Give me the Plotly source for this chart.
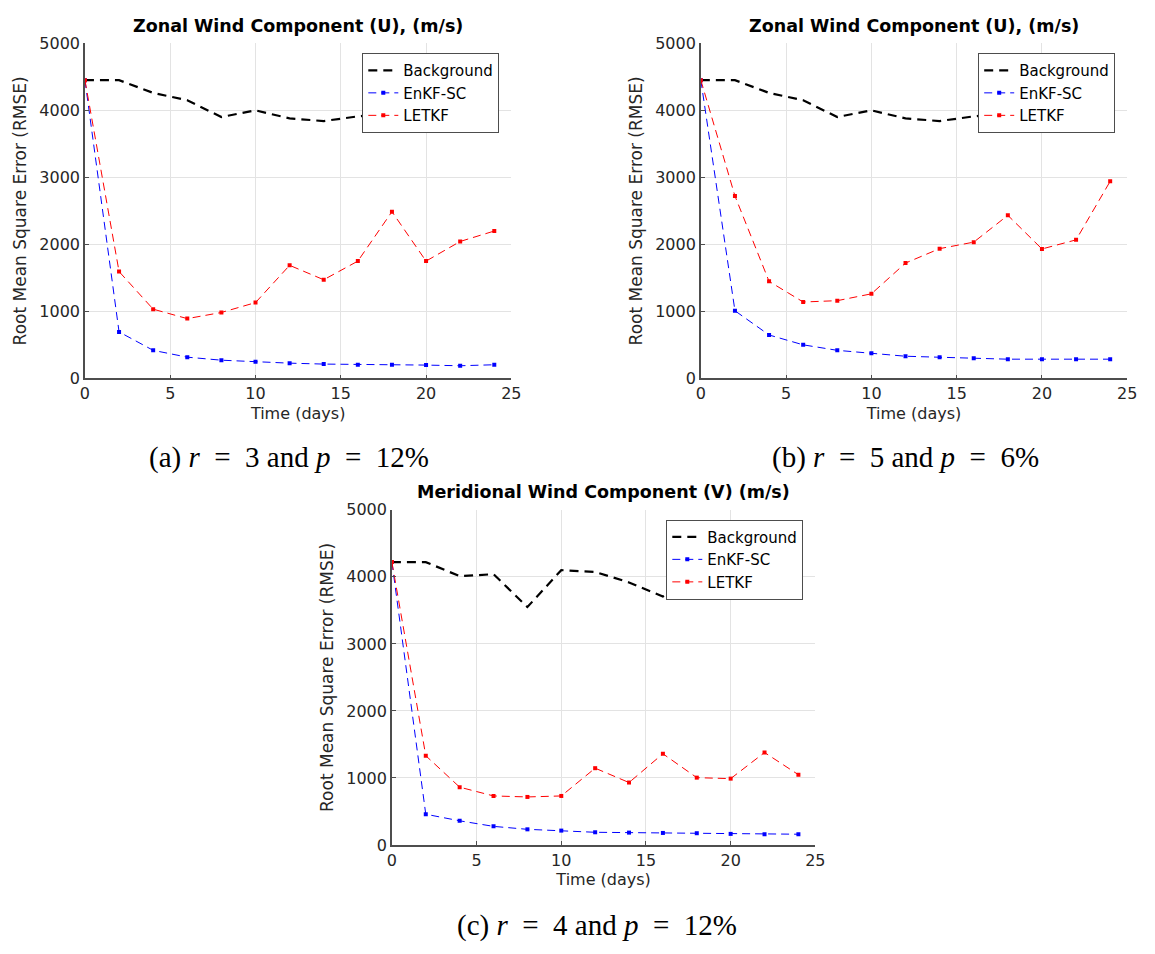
import plotly.graph_objects as go

W, H = 1155, 954

days = [0, 2, 4, 6, 8, 10, 12, 14, 16, 18, 20, 22, 24]

# (a) r=3, p=12%  -- Zonal wind U
bg_u = [4450, 4450, 4260, 4150, 3900, 4000, 3880, 3840, 3910, 3960, 3920, 3960, 3910]
enkf_a = [4450, 695, 420, 318, 273, 249, 229, 215, 205, 205, 200, 190, 205]
letkf_a = [4450, 1595, 1034, 893, 985, 1132, 1688, 1473, 1751, 2488, 1751, 2044, 2200]

# (b) r=5, p=6%  -- Zonal wind U
enkf_b = [4450, 1010, 649, 502, 420, 376, 332, 317, 302, 288, 288, 288, 288]
letkf_b = [4450, 2722, 1449, 1141, 1161, 1263, 1722, 1937, 2034, 2434, 1932, 2068, 2941]

# (c) r=4, p=12%  -- Meridional wind V
bg_v = [4220, 4220, 4010, 4040, 3550, 4100, 4073, 3917, 3707, 4000, 4050, 3990, 3756]
enkf_c = [4220, 459, 361, 278, 234, 215, 190, 185, 180, 176, 166, 161, 161]
letkf_c = [4220, 1332, 863, 732, 717, 732, 1146, 932, 1361, 1005, 990, 1380, 1049]

panel_titles = ["Zonal Wind Component (U), (m/s)",
                "Zonal Wind Component (U), (m/s)",
                "Meridional Wind Component (V) (m/s)"]
SP = "\u00a0\u00a0"
captions = ["(a) <i>r</i>" + SP + "=" + SP + "3 and <i>p</i>" + SP + "=" + SP + "12%",
            "(b) <i>r</i>" + SP + "=" + SP + "5 and <i>p</i>" + SP + "=" + SP + "6%",
            "(c) <i>r</i>" + SP + "=" + SP + "4 and <i>p</i>" + SP + "=" + SP + "12%"]
series_names = ["Background", "EnKF-SC", "LETKF"]
x_ticks = [0, 5, 10, 15, 20, 25]
y_ticks = [0, 1000, 2000, 3000, 4000, 5000]

FONT = "DejaVu Sans, Verdana, sans-serif"
AX = "#4d4d4d"

# pixel boxes of the three axes: (left, right, top, bottom)
boxes = [(81, 513, 35, 377), (705, 1137, 35, 377), (392, 821, 511, 853)]
legend_pos = [(362, 45), (986, 45), (670, 521)]
caption_pos = [(288, 458), (912, 458), (600, 935)]

panels = [(bg_u, enkf_a, letkf_a), (bg_u, enkf_b, letkf_b), (bg_v, enkf_c, letkf_c)]

fig = go.Figure()
annotations = []
layout = dict(width=W, height=H, margin=dict(l=0, r=0, t=0, b=0),
              paper_bgcolor="white", plot_bgcolor="white",
              font=dict(family=FONT, size=16, color="#262626"))

for i, (box, (bg, enkf, letkf)) in enumerate(zip(boxes, panels)):
    n = "" if i == 0 else str(i + 1)
    xa, ya = "x" + n, "y" + n
    leg = "legend" + n
    l, r, t, b = box
    fig.add_trace(go.Scatter(x=days, y=bg, name=series_names[0], mode="lines",
                             line=dict(color="black", width=2.2, dash="9px,6px"),
                             xaxis=xa, yaxis=ya, legend=leg))
    fig.add_trace(go.Scatter(x=days, y=enkf, name=series_names[1], mode="lines+markers",
                             line=dict(color="#0000ff", width=1, dash="8px,5px"),
                             marker=dict(symbol="square", size=4, color="#0000ff"),
                             xaxis=xa, yaxis=ya, legend=leg))
    fig.add_trace(go.Scatter(x=days, y=letkf, name=series_names[2], mode="lines+markers",
                             line=dict(color="#ff0000", width=1, dash="8px,5px"),
                             marker=dict(symbol="square", size=4, color="#ff0000"),
                             xaxis=xa, yaxis=ya, legend=leg))
    common = dict(showgrid=True, gridcolor="#e3e3e3", gridwidth=1,
                  showline=True, linecolor=AX, linewidth=1.5,
                  ticks="inside", ticklen=4, tickcolor=AX,
                  zeroline=False, mirror=False,
                  tickfont=dict(family=FONT, size=16, color="#262626"))
    layout["xaxis" + n] = dict(common, domain=[l / W, r / W], range=[0, 25],
                               tickvals=x_ticks, anchor=ya,
                               title=dict(text="Time (days)", standoff=5,
                                          font=dict(family=FONT, size=16)))
    layout["yaxis" + n] = dict(common, domain=[1 - b / H, 1 - t / H], range=[0, 5000],
                               tickvals=y_ticks, anchor=xa,
                               title=dict(text="Root Mean Square Error (RMSE)", standoff=8,
                                          font=dict(family=FONT, size=17)))
    lx, ly = legend_pos[i]
    layout[leg] = dict(x=lx / W, y=1 - ly / H, xanchor="left", yanchor="top",
                       bgcolor="white", bordercolor=AX, borderwidth=1,
                       font=dict(family=FONT, size=15, color="black"), tracegroupgap=0,
                       itemwidth=30)
    annotations.append(dict(text="<b>" + panel_titles[i] + "</b>",
                            x=(l + r) / 2 / W, y=1 - (t - 18) / H,
                            xref="paper", yref="paper", xanchor="center", yanchor="middle",
                            showarrow=False, font=dict(family=FONT, size=17.5, color="black")))
    cx, cy = caption_pos[i]
    annotations.append(dict(text=captions[i], x=cx / W, y=1 - cy / H,
                            xref="paper", yref="paper", xanchor="center", yanchor="middle",
                            showarrow=False,
                            font=dict(family="Liberation Serif, DejaVu Serif, serif",
                                      size=29, color="black")))

layout["annotations"] = annotations
fig.update_layout(**layout)
fig.write_html("out.html", config={"displayModeBar": False},
               post_script="document.body.style.margin='0';")
